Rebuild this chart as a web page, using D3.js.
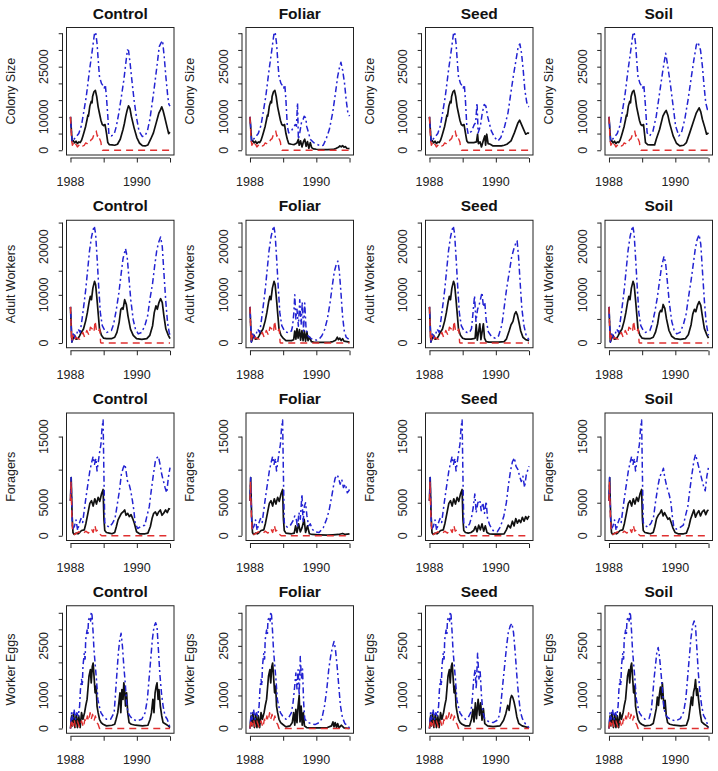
<!DOCTYPE html>
<html><head><meta charset="utf-8">
<script src="https://cdn.jsdelivr.net/npm/d3@7"></script>
<style>html,body{margin:0;padding:0;background:#fff;}svg{display:block;}</style>
</head><body>
<svg id="chart" width="718" height="771"></svg>
<script>
// ---------- DATA (month offset from Jan 1988, value) ----------
const treatments = ["Control", "Foliar", "Seed", "Soil"];
const rowLabels = ["Colony Size", "Adult Workers", "Foragers", "Worker Eggs"];
const yearTicks = [1988, 1989, 1990, 1991];
const yearTickLabels = [1988, 1990];
const csTicks = [0, 5000, 10000, 15000, 20000, 25000, 30000, 35000];
const csTickLabels = [0, 10000, 25000];
const awTicks = [0, 5000, 10000, 15000, 20000, 25000];
const awTickLabels = [0, 10000, 20000];
const foTicks = [0, 5000, 10000, 15000];
const foTickLabels = [0, 5000, 15000];
const weTicks = [0, 500, 1000, 1500, 2000, 2500, 3000, 3500];
const weTickLabels = [0, 1000, 2500];
const rowMax = [35300, 24500, 17850, 3570];

// Colony size
const csMedY1 = [[0,10000],[0.6,2600],[1,2900],[1.5,2200],[2,2700],[2.5,2000],[3,2500],[3.5,2300],[4,3000],[4.5,4300],[5,5700],[5.5,7200],[6,9200],[6.3,10500],[6.5,10200],[7,13200],[7.5,14600],[7.8,14200],[8,16100],[8.5,17500],[9,17900],[9.5,16000],[10,13000],[10.5,11000],[11,9000],[11.5,7700],[12,7400],[12.5,7700]];
const csHiY1 = [[0,10000],[0.6,2500],[1,3000],[2,4000],[3,5000],[4,7500],[4.5,10000],[5.7,16000],[6.9,24000],[7.9,30000],[8.7,35000],[9.1,35300],[9.6,32000],[10.2,25000],[10.5,22000],[11.2,20000],[11.8,19300],[12.2,18600],[12.6,19600]];
const csLo = [[0,10000],[0.4,3000],[0.7,1500],[1,2000],[1.5,1000],[2,1800],[2.5,1000],[3,1500],[3.5,1200],[4,1800],[4.5,1300],[5,1500],[5.5,2200],[6,2000],[6.5,2800],[7,2500],[7.5,3200],[8,3500],[8.5,4800],[9,5500],[9.3,5800],[9.7,4200],[10,4800],[10.5,3500],[11,2500],[11.3,500],[11.6,0],[36,0]];
const csMedControl = csMedY1.concat([[13,5200],[13.5,2300],[14,1700],[15,1600],[16,1500],[17,1800],[18,3300],[19,6200],[19.5,8000],[20,10200],[20.5,12000],[21,13300],[21.5,12500],[22,10200],[23,6700],[24,3800],[25,2100],[26,1400],[27,1300],[28,1600],[29,3300],[30,5200],[31,8200],[32,11200],[32.5,12000],[33,13000],[33.5,11800],[34,10200],[35,6700],[35.5,5000],[36,5400]]);
const csHiControl = csHiY1.concat([[13,16000],[13.5,10200],[13.9,4700],[14.8,4300],[15.8,4800],[16.6,7200],[17.5,11200],[18.4,16000],[19.3,21000],[20,26000],[20.6,30000],[21,29800],[21.5,26500],[22.2,21000],[23,15000],[23.9,9700],[24.8,5700],[26,4100],[26.9,4300],[27.8,5700],[28.7,9200],[29.7,15000],[30.5,20000],[31.4,26000],[32.1,31000],[32.8,32200],[33.3,32800],[33.9,28000],[34.5,22000],[35.2,16000],[35.6,13700],[36,13200]]);
const csMedFoliar = csMedY1.concat([[13,5000],[13.5,3300],[14,2000],[15,1800],[16,1700],[17,2200],[17.5,3300],[17.8,1500],[18.3,2800],[18.8,1000],[19.3,2500],[19.8,3300],[20.3,1200],[20.8,2600],[21.3,600],[21.8,2300],[22.3,800],[23,400],[24,300],[26,200],[28,200],[30,250],[31,500],[32,900],[32.5,1300],[33,1000],[33.5,1400],[34,900],[34.5,1100],[35,600],[36,500]]);
const csHiFoliar = csHiY1.concat([[13,15000],[13.5,7200],[14,5200],[14.9,5700],[15.6,6700],[16.4,7700],[16.8,7200],[17.2,14200],[17.5,3300],[18,5200],[18.6,8200],[19.2,9200],[19.6,10200],[20.2,9700],[20.5,7200],[21.2,5200],[21.8,3300],[23,2300],[24.2,1800],[25.5,1300],[26.5,1500],[27.5,3300],[28.7,6200],[29.9,11200],[30.9,17000],[31.7,22000],[32.3,24500],[32.9,26300],[33.5,24000],[34.2,20000],[34.8,15000],[35.4,11200],[36,10200]]);
const csMedSeed = csMedY1.concat([[13,5200],[13.5,2800],[14,2300],[15,2300],[16,2300],[17,2500],[17.4,4800],[17.7,2000],[18.3,2500],[18.8,1000],[19.5,3000],[20,4300],[20.3,1500],[20.7,4800],[21.2,2000],[22,1800],[23,1300],[24,1300],[26,1300],[27,1500],[28,1800],[29.5,2800],[30.7,5200],[32,8200],[32.6,9000],[33.8,6700],[34.8,4800],[35.6,5200],[36,5000]]);
const csHiSeed = csHiY1.concat([[13,15000],[13.5,7200],[14,4800],[15.2,5700],[16.2,7700],[16.7,8200],[17.2,14200],[17.6,5200],[18.4,7200],[19.1,11200],[19.8,13700],[20.4,13200],[21,10200],[21.6,8200],[22.4,5700],[23.6,3800],[24.8,2800],[25.8,3800],[27.2,7200],[28.4,11200],[29.4,17000],[30.3,22000],[31.1,26000],[32.1,31000],[32.7,31800],[33.3,29000],[33.9,24000],[34.5,18000],[35.2,14200],[35.6,13200],[36,13000]]);
const csMedSoil = csMedY1.concat([[13.2,2300],[14,1700],[15,1600],[16.5,1600],[17.1,3300],[18.3,6200],[19.5,10200],[20.1,11200],[20.7,11900],[21.3,10500],[21.9,8200],[23.2,4300],[24.4,2100],[25.6,1300],[27,1500],[28,2300],[29.2,5200],[30.4,8200],[31.6,11200],[32.6,12700],[33.2,11500],[33.8,9200],[34.7,6700],[35.3,4800],[36,5200]]);
const csHiSoil = csHiY1.concat([[13.2,13200],[13.8,5200],[14.7,4300],[15.9,5700],[17.1,10200],[18.3,17100],[19.5,24000],[20.5,29000],[21.3,25000],[22.3,19100],[23.2,13200],[24.1,7200],[25.3,4300],[26.2,5200],[27.4,9200],[28.6,15100],[29.8,22000],[30.7,27000],[31.6,31500],[32.2,32300],[33.1,30000],[33.8,25000],[34.4,19100],[35,14200],[35.6,12200],[36,12500]]);

// Adult workers
const awMedY1 = [[0,7500],[0.5,200],[1,1000],[1.5,1600],[2,800],[2.7,900],[3.3,1500],[3.9,2200],[4.7,2900],[5.5,4600],[6.1,6300],[6.7,8400],[7.2,9700],[7.6,9000],[8.1,11400],[8.7,12800],[9.1,12100],[9.6,9000],[10.1,5600],[10.5,2900],[11.2,1600],[12,1000]];
const awHiY1 = [[0,7500],[0.5,200],[1.1,2200],[1.6,1000],[2.1,1600],[2.8,2900],[3.5,2200],[4.2,5000],[4.8,7700],[5.5,11000],[6.1,14500],[6.9,19200],[7.6,22000],[8.1,23300],[8.6,24300],[9.1,22600],[9.6,17900],[10.2,11800],[10.8,6300],[11.5,3600],[12.4,2600]];
const awLo = [[0,7500],[0.4,300],[0.8,1600],[1.4,500],[2,1200],[2.7,900],[3.3,800],[3.9,1600],[4.5,2200],[5.1,1200],[5.9,2600],[6.7,1600],[7.2,3300],[7.9,2900],[8.5,2200],[8.9,4600],[9.5,2200],[10.1,2500],[10.6,2900],[10.9,100],[11.2,0],[36,0]];
const awMedControl = awMedY1.concat([[13,900],[14.8,900],[16,1200],[16.8,2200],[17.6,4300],[18.2,7000],[18.7,7300],[19,7000],[19.6,9000],[20.2,8000],[20.8,5600],[21.7,2900],[22.7,1600],[23.9,900],[25.8,750],[27.6,900],[28.7,1600],[29.7,3600],[30.3,6300],[30.9,7700],[31.4,7000],[32,8400],[32.6,9200],[33.2,8400],[33.8,5600],[34.5,2900],[35.4,1600],[36,900]]);
const awHiControl = awHiY1.concat([[13.2,2200],[14.8,2600],[15.6,3900],[16.6,7000],[17.5,10400],[18.2,13800],[19,17500],[19.9,19600],[20.5,17900],[21.1,13800],[21.8,9000],[22.7,4800],[23.5,2900],[24.5,1900],[25.7,2200],[26.9,3600],[27.9,5600],[28.7,9000],[29.7,12400],[30.4,15800],[31.2,19200],[31.9,20900],[32.6,22000],[33.2,20000],[33.8,14500],[34.5,8400],[35.1,4300],[35.7,2200],[36,1600]]);
const awMedFoliar = awMedY1.concat([[13,500],[15,500],[15.8,700],[16.2,2500],[16.6,800],[17,3000],[17.4,1000],[17.9,2800],[18.3,600],[18.8,2600],[19.2,500],[19.7,2500],[20.1,400],[20.6,2300],[21,500],[21.6,1200],[22.2,300],[23,200],[25,150],[27,150],[29,200],[30,300],[31,600],[31.6,1200],[32,700],[32.5,1000],[33,500],[33.5,900],[34,400],[35,300],[36,200]]);
const awHiFoliar = awHiY1.concat([[13,2300],[14,2100],[15,2500],[15.4,3500],[15.9,6500],[16.2,10000],[16.6,5000],[17,7000],[17.5,3500],[18,9000],[18.5,3800],[18.9,8500],[19.4,2500],[19.8,8300],[20.3,2800],[21,1500],[22.2,900],[24,600],[25,800],[26,1500],[27,2800],[28,5000],[29,8500],[29.8,12000],[30.5,14800],[31.2,16300],[31.8,17000],[32.3,15000],[32.9,10500],[33.5,5500],[34.1,2500],[34.8,1200],[36,700]]);
const awMedSeed = awMedY1.concat([[13,800],[15,800],[16,900],[16.5,1000],[16.9,3800],[17.3,600],[18.2,4000],[18.6,700],[19.5,4000],[19.9,1000],[20.5,300],[21.5,200],[23,200],[25,200],[27,300],[27.8,800],[28.8,2500],[29.5,3800],[30.2,4500],[30.8,6000],[31.3,6500],[31.8,5800],[32.4,4200],[33,2500],[33.8,1200],[34.8,700],[36,500]]);
const awHiSeed = awHiY1.concat([[13.5,2200],[14.5,2200],[15.2,3000],[15.7,6000],[16.3,9800],[16.8,4500],[17.4,7000],[18,8000],[18.5,9200],[19,10500],[19.5,7500],[20,8500],[20.5,4800],[21.3,2300],[22.5,1300],[23.8,1000],[25,1500],[26.2,3800],[27,7300],[27.9,11300],[28.8,14500],[29.7,17800],[30.5,19500],[31.2,20700],[31.7,21200],[32.2,18000],[32.8,12500],[33.4,7200],[34.2,3500],[35,1500],[36,700]]);
const awMedSoil = awMedY1.concat([[13,900],[14.8,900],[16,1200],[16.8,2200],[17.6,4000],[18.2,6200],[18.7,6800],[19.1,6500],[19.6,8000],[20.2,7200],[20.8,5000],[21.7,2600],[22.7,1400],[23.9,900],[25.8,750],[27.6,900],[28.7,1700],[29.7,3800],[30.3,6000],[30.9,7000],[31.4,6500],[32,7800],[32.6,8600],[33.2,7800],[33.8,5500],[34.5,3000],[35.4,1700],[36,1000]]);
const awHiSoil = awHiY1.concat([[13.2,2200],[14.8,2600],[15.6,3900],[16.6,6500],[17.5,9500],[18.2,12500],[19,15800],[19.9,18000],[20.5,16500],[21.1,12800],[21.8,8500],[22.7,4500],[23.5,2800],[24.5,1900],[25.7,2200],[26.9,3800],[27.9,6000],[28.7,9300],[29.7,13000],[30.4,16000],[31.2,19500],[31.9,21500],[32.6,22500],[33.2,20500],[33.8,15000],[34.5,8800],[35.1,4500],[35.7,2300],[36,1600]]);

// Foragers
const foMedY1 = [[0,5300],[0.25,8800],[0.6,3000],[0.9,500],[1.3,200],[2,400],[2.7,300],[3.3,500],[4,800],[5,900],[5.6,1900],[6.3,3400],[7,4900],[7.6,5300],[8.2,4500],[8.8,5600],[9.4,4800],[10,5800],[10.6,5200],[11.2,6300],[11.8,7000],[12.1,2500],[12.4,800]];
const foHiY1 = [[0,5300],[0.25,8800],[0.7,1000],[1.4,1400],[2,2400],[2.6,800],[3.2,1900],[3.8,2600],[4.4,2000],[5,3900],[5.6,5800],[6.3,7800],[7,9800],[7.6,11000],[8.2,12000],[8.7,10800],[9.2,11700],[9.6,9800],[10.1,11300],[10.6,12800],[11,13800],[11.4,16200],[11.8,17500],[12.1,9000],[12.4,2000]];
const foLo = [[0,5300],[0.2,8200],[0.5,3000],[0.8,500],[1.5,200],[3,600],[4.5,300],[5.5,700],[6.5,400],[7.5,1100],[8.2,500],[8.8,1600],[9.3,700],[9.9,900],[10.5,300],[11,100],[11.4,0],[36,0]];
const foMedControl = foMedY1.concat([[13,500],[14,400],[15,300],[16,500],[16.6,1400],[17.2,2400],[17.8,2900],[18.4,3400],[19,3600],[19.6,3900],[20.1,3100],[20.7,3400],[21.3,2900],[21.9,3200],[22.5,2600],[23.1,1900],[23.9,600],[25,300],[27,300],[28,400],[28.9,1400],[29.5,2600],[30.1,3400],[30.7,3600],[31.3,3100],[31.9,3600],[32.5,3900],[33.1,3100],[33.7,3400],[34.4,3900],[35,3500],[35.6,4100],[36,4000]]);
const foHiControl = foHiY1.concat([[13,1600],[14,1300],[15.2,1900],[16.1,2600],[16.8,4400],[17.7,6800],[18.4,9300],[19.1,10300],[19.7,10800],[20.1,9800],[20.6,8300],[21.2,7800],[21.8,6800],[22.4,5300],[22.9,3900],[23.4,1900],[24.3,1100],[25.5,1400],[26.9,1600],[27.6,2900],[28.5,4400],[29.2,6800],[30,9300],[30.7,11300],[31.3,11800],[31.8,12000],[32.4,10800],[33,9300],[33.6,8300],[34.2,7300],[34.8,6500],[35.4,8800],[36,10300]]);
const foMedFoliar = foMedY1.concat([[13,400],[15,300],[16,400],[16.5,1500],[17,500],[17.6,1800],[18.2,600],[18.8,1200],[19.6,2500],[20.1,500],[20.8,1500],[21.5,300],[22.5,200],[25,150],[28,100],[30,150],[32,200],[33.5,350],[34.5,200],[36,300]]);
const foHiFoliar = foHiY1.concat([[12.8,1600],[13.5,1300],[14.5,1500],[15.5,2200],[16.2,3000],[16.7,2600],[17.2,1300],[17.7,3500],[18.2,2500],[18.8,6300],[19.2,2000],[19.7,4500],[20.1,5000],[20.6,3000],[21.2,1500],[21.8,1800],[22.5,1000],[23.5,600],[25,500],[26.5,1200],[27.7,2500],[28.6,3800],[29.5,5800],[30.2,7500],[30.8,8700],[31.5,9200],[32,8800],[32.6,7800],[33.2,8500],[33.8,7300],[34.5,7800],[35.2,6500],[35.7,6800],[36,7000]]);
const foMedSeed = foMedY1.concat([[13,500],[14,400],[15,500],[16,800],[16.6,1400],[17.2,600],[17.8,1600],[18.4,900],[19,1800],[19.6,700],[20.2,1500],[20.8,500],[21.6,300],[23,250],[25,250],[27,300],[27.8,900],[28.5,1600],[29.3,1200],[30,2200],[30.6,1500],[31.2,2600],[31.8,1900],[32.4,2400],[33,2000],[33.6,2800],[34.2,2200],[34.8,2900],[35.4,2500],[36,3000]]);
const foHiSeed = foHiY1.concat([[12.8,1600],[13.5,1200],[14.5,1800],[15.2,2800],[15.8,4200],[16.4,6300],[16.9,3500],[17.5,5000],[18.2,5400],[18.7,3800],[19.3,5000],[19.9,3400],[20.5,5200],[21,2600],[21.8,1600],[23,800],[24.5,600],[25.7,1400],[26.9,3000],[27.8,5000],[28.6,7800],[29.3,9800],[30,11200],[30.7,11800],[31.3,10500],[32,10000],[32.6,9000],[33.2,8200],[33.8,9000],[34.4,7300],[35,9200],[35.6,10000],[36,10500]]);
const foMedSoil = foMedY1.concat([[13,500],[14,400],[15,300],[16,500],[16.6,1400],[17.2,2600],[17.8,3100],[18.4,3400],[19,3900],[19.6,3000],[20.1,3500],[20.7,3000],[21.3,2500],[21.9,2700],[22.5,2000],[23.1,1200],[23.9,500],[25,300],[27,300],[28,400],[28.9,1400],[29.5,2500],[30.1,3200],[30.7,3900],[31.3,2800],[31.9,3400],[32.5,3800],[33.1,3000],[33.7,3600],[34.4,3900],[35,3200],[35.6,3800],[36,3900]]);
const foHiSoil = foHiY1.concat([[13,1600],[14,1300],[15.2,1900],[16.1,2800],[16.8,5000],[17.7,7500],[18.4,9000],[19.1,9500],[19.7,10200],[20.1,9000],[20.6,8000],[21.2,7000],[21.8,6200],[22.4,5000],[22.9,3000],[23.4,1500],[24.3,1000],[25.5,1200],[26.9,1600],[27.6,2900],[28.5,4400],[29.2,6800],[30,9300],[30.7,11300],[31.3,12300],[31.8,11500],[32.4,10500],[33,9500],[33.6,8500],[34.2,7500],[34.8,6800],[35.4,9000],[36,10400]]);

// Worker eggs
const weMedY1 = [[0,0],[0.4,380],[0.7,80],[1.1,480],[1.6,30],[2.1,430],[2.5,30],[3,380],[3.5,30],[4,480],[4.5,280],[5.1,480],[5.5,680],[6,880],[6.3,1180],[6.7,1580],[7.2,1780],[7.5,1380],[7.9,1880],[8.2,1980],[8.6,1480],[8.9,1080],[9.3,1280],[9.6,680],[10,480],[10.5,280],[11.1,180],[11.8,130]];
const weHiY1 = [[0,0],[0.4,480],[0.8,280],[1.3,580],[1.8,280],[2.3,480],[2.8,380],[3.3,680],[3.6,1180],[4,1480],[4.3,1300],[4.5,1880],[5,2280],[5.3,2100],[5.5,2680],[6,2980],[6.3,2850],[6.5,3280],[7,3380],[7.3,3250],[7.5,3530],[7.8,3430],[8.2,2880],[8.5,2380],[9,1880],[9.4,1480],[9.9,880],[10.4,680],[11,480],[11.8,380]];
const weLo = [[0,0],[0.4,280],[0.8,80],[1.3,280],[1.8,60],[2.5,230],[3.3,30],[4,230],[4.7,30],[5.2,280],[5.6,180],[6.1,380],[6.6,230],[7.1,480],[7.5,280],[8,430],[8.5,230],[9,380],[9.5,180],[10,130],[10.5,0],[36,0]];
const weMedControl = weMedY1.concat([[13,80],[15,100],[16,130],[16.5,280],[17.1,480],[17.5,780],[17.9,1080],[18.2,480],[18.6,1180],[19,880],[19.3,1380],[19.6,1180],[19.9,680],[20.3,1080],[20.7,480],[21.2,180],[22,130],[23.5,100],[26,80],[28,100],[28.8,280],[29.3,480],[29.8,880],[30.2,480],[30.6,1080],[31,1280],[31.3,1380],[31.7,880],[32,1180],[32.5,680],[33,380],[33.5,180],[34.5,130],[35.4,80],[36,30]]);
const weHiControl = weHiY1.concat([[13,280],[14.5,280],[15.8,480],[16.3,1080],[16.8,1680],[17.3,2280],[17.8,2680],[18.3,2880],[18.8,2480],[19.3,1880],[19.8,1380],[20.3,780],[20.8,480],[21.5,380],[22.5,280],[24,230],[25.8,280],[27,480],[27.8,880],[28.4,1480],[29,2080],[29.6,2680],[30.2,3080],[30.8,3200],[31.3,3080],[31.8,2380],[32.3,1680],[32.9,1080],[33.5,680],[34.2,380],[35,280],[36,30]]);
const weMedFoliar = weMedY1.concat([[13,50],[14.5,80],[15.3,180],[15.8,480],[16.2,100],[16.6,580],[17,180],[17.4,680],[17.8,1000],[18.1,200],[18.5,680],[18.9,100],[19.3,480],[19.7,80],[20.5,30],[22,20],[25,20],[28,30],[29.5,80],[30,200],[30.4,50],[30.8,180],[31.3,30],[31.7,150],[32.2,20],[33,100],[34,20],[36,0]]);
const weHiFoliar = weHiY1.concat([[13,280],[14,330],[15,480],[15.6,800],[16.2,1300],[16.6,1680],[17,1200],[17.4,1780],[17.8,1000],[18.2,2180],[18.6,1500],[19,1800],[19.4,800],[19.8,300],[20.6,200],[22,150],[23.5,120],[25,180],[26,300],[27,700],[27.8,1200],[28.5,1800],[29.2,2200],[29.8,2450],[30.4,2630],[30.9,2400],[31.5,1900],[32.1,1300],[32.7,700],[33.4,350],[34.3,150],[35.5,80],[36,0]]);
const weMedSeed = weMedY1.concat([[13,80],[14.5,80],[15.2,280],[15.7,580],[16.1,200],[16.6,780],[17,300],[17.6,880],[18.1,400],[18.5,780],[19,250],[19.5,600],[20,150],[21,80],[23,60],[25.5,80],[26.8,250],[27.6,450],[28.3,700],[28.8,550],[29.3,900],[29.7,1000],[30.1,950],[30.6,800],[31.1,600],[31.6,350],[32.3,150],[33.5,80],[36,20]]);
const weHiSeed = weHiY1.concat([[13,280],[14,330],[15,500],[15.5,900],[16,1500],[16.5,1780],[16.9,1200],[17.4,2280],[17.9,1500],[18.3,1780],[18.8,1000],[19.3,500],[20,300],[21.5,200],[23,180],[24.5,250],[25.3,400],[26,900],[26.7,1500],[27.3,2000],[27.9,2500],[28.5,2900],[29.2,3100],[29.8,3180],[30.4,2900],[31,2300],[31.6,1600],[32.2,1000],[32.9,500],[33.6,300],[34.6,150],[36,20]]);
const weMedSoil = weMedY1.concat([[13,80],[15,100],[16,150],[16.5,350],[17.1,600],[17.5,950],[17.9,700],[18.2,1000],[18.6,1250],[19,900],[19.3,1380],[19.6,1000],[19.9,600],[20.3,850],[20.7,400],[21.2,180],[22,130],[23.5,100],[26,80],[28,100],[28.8,300],[29.3,600],[29.8,950],[30.2,700],[30.6,1100],[31,1250],[31.3,1480],[31.7,1000],[32,1200],[32.5,800],[33,450],[33.5,200],[34.5,130],[35.4,80],[36,30]]);
const weHiSoil = weHiY1.concat([[13,280],[14.5,300],[15.3,550],[15.8,1000],[16.3,1500],[16.8,1900],[17.3,2300],[17.8,2450],[18.3,2150],[18.8,1700],[19.3,1200],[19.8,700],[20.3,450],[21,350],[22.2,280],[24,230],[25.8,300],[27,500],[27.8,900],[28.4,1500],[29,2100],[29.6,2700],[30.2,3100],[30.8,3250],[31.3,3100],[31.8,2400],[32.3,1700],[32.9,1100],[33.5,700],[34.2,400],[35,280],[36,30]]);

// ---------- assembling ----------
const rows = [
  {label: rowLabels[0], max: rowMax[0], ticks: csTicks, tickLabels: csTickLabels,
   med: [csMedControl, csMedFoliar, csMedSeed, csMedSoil], hi: [csHiControl, csHiFoliar, csHiSeed, csHiSoil], lo: csLo},
  {label: rowLabels[1], max: rowMax[1], ticks: awTicks, tickLabels: awTickLabels,
   med: [awMedControl, awMedFoliar, awMedSeed, awMedSoil], hi: [awHiControl, awHiFoliar, awHiSeed, awHiSoil], lo: awLo},
  {label: rowLabels[2], max: rowMax[2], ticks: foTicks, tickLabels: foTickLabels,
   med: [foMedControl, foMedFoliar, foMedSeed, foMedSoil], hi: [foHiControl, foHiFoliar, foHiSeed, foHiSoil], lo: foLo},
  {label: rowLabels[3], max: rowMax[3], ticks: weTicks, tickLabels: weTickLabels,
   med: [weMedControl, weMedFoliar, weMedSeed, weMedSoil], hi: [weHiControl, weHiFoliar, weHiSeed, weHiSoil], lo: weLo}
];

const W = 718, H = 771, cellW = W / 4, cellH = H / 4;
const box = {l: 66.5, r: 174, t: 27.5, b: 155};
const FONT = "'Liberation Sans', Arial, Helvetica, sans-serif";
const svg = d3.select("#chart");

const x = d3.scaleLinear().domain([1988 - 0.12, 1991 + 0.12]).range([box.l, box.r]);

rows.forEach((row, ri) => {
  const y = d3.scaleLinear().domain([-0.04 * row.max, 1.04 * row.max]).range([box.b, box.t]);
  const line = d3.line().x(d => x(1988 + d[0] / 12)).y(d => y(d[1]));
  treatments.forEach((tr, ci) => {
    const g = svg.append("g").attr("transform", `translate(${ci * cellW},${ri * cellH})`);
    const cid = `clip-${ri}-${ci}`;
    g.append("clipPath").attr("id", cid).append("rect")
      .attr("x", box.l).attr("y", box.t).attr("width", box.r - box.l).attr("height", box.b - box.t);
    const pg = g.append("g").attr("clip-path", `url(#${cid})`);
    pg.append("path").datum(row.med[ci]).attr("d", line)
      .attr("fill", "none").attr("stroke", "#111").attr("stroke-width", 1.7).attr("stroke-linejoin", "round");
    pg.append("path").datum(row.hi[ci]).attr("d", line)
      .attr("fill", "none").attr("stroke", "#2323d2").attr("stroke-width", 1.5)
      .attr("stroke-dasharray", "2,3,6,3").attr("stroke-linejoin", "round");
    pg.append("path").datum(row.lo).attr("d", line)
      .attr("fill", "none").attr("stroke", "#e03030").attr("stroke-width", 1.4)
      .attr("stroke-dasharray", "7,5").attr("stroke-linejoin", "round");

    // box
    g.append("rect").attr("x", box.l).attr("y", box.t)
      .attr("width", box.r - box.l).attr("height", box.b - box.t)
      .attr("fill", "none").attr("stroke", "#222").attr("stroke-width", 1);

    // x axis
    const xa = g.append("g").attr("transform", `translate(0,${box.b + 3})`);
    xa.call(d3.axisBottom(x).tickValues(yearTicks).tickSize(4.5).tickFormat(""));
    xa.select(".domain").attr("d", `M${x(1988)},0H${x(1991)}`).attr("stroke", "#222");
    xa.selectAll(".tick line").attr("stroke", "#222");
    g.selectAll(".xlab").data(yearTickLabels).enter().append("text")
      .attr("x", d => x(d)).attr("y", 186).attr("text-anchor", "middle")
      .attr("font-family", FONT).attr("font-size", 12.5).attr("fill", "#222")
      .text(d => d);

    // y axis
    const ya = g.append("g").attr("transform", `translate(${box.l - 4},0)`);
    ya.call(d3.axisLeft(y).tickValues(row.ticks).tickSize(3.8).tickFormat(""));
    ya.select(".domain").attr("d", `M0,${y(row.ticks[0])}V${y(row.ticks[row.ticks.length - 1])}`).attr("stroke", "#222");
    ya.selectAll(".tick line").attr("stroke", "#222");
    g.selectAll(".ylab").data(row.tickLabels).enter().append("text")
      .attr("transform", d => `translate(48,${y(d)}) rotate(-90)`)
      .attr("text-anchor", "middle")
      .attr("font-family", FONT).attr("font-size", 12.5).attr("fill", "#222")
      .text(d => d);

    // y title
    g.append("text")
      .attr("transform", `translate(14.5,${(box.t + box.b) / 2}) rotate(-90)`)
      .attr("text-anchor", "middle")
      .attr("font-family", FONT).attr("font-size", 12.5).attr("fill", "#222")
      .text(row.label);

    // panel title
    g.append("text").attr("x", (box.l + box.r) / 2).attr("y", 18.5)
      .attr("text-anchor", "middle").attr("font-family", FONT)
      .attr("font-size", 15.5).attr("font-weight", "bold").attr("fill", "#111")
      .text(tr);
  });
});
</script>
</body></html>
